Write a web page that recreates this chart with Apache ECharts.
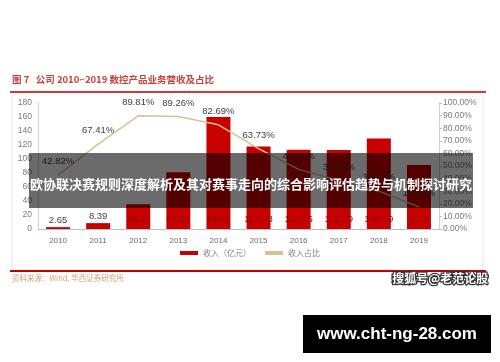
<!DOCTYPE html>
<html><head><meta charset="utf-8">
<script src="https://cdn.jsdelivr.net/npm/echarts@6/dist/echarts.min.js"></script>
<style>html,body{margin:0;padding:0;background:#fff;}#c{width:500px;height:362px;}</style>
</head><body><div id="c"></div>
<script>
const years = ['2010','2011','2012','2013','2014','2015','2016','2017','2018','2019'];
const revenue = [2.65, 8.39, 35.31, 81.24, 160.1, 117.88, 113.16, 112.89, 129.19, 91.4];
const share = [42.82, 67.41, 89.81, 89.26, 82.69, 63.73, 47.31, 38.44, 30.02, 17.59];
const leftTicks = [0, 180, 20];
const rightTicks = [0, 100, 10];
const titleText = '图 7   公司 2010~2019 数控产品业务营收及占比';
const sourceText = '资料来源：Wind, 华西证券研究所';
const overlayText = '欧协联决赛规则深度解析及其对赛事走向的综合影响评估趋势与机制探讨研究';

const numFont = 'Liberation Sans';
const cjk = 'Noto Sans CJK SC';
const chart = echarts.init(document.getElementById('c'));
chart.setOption({
  animation: false,
  backgroundColor: '#fff',
  grid: {left: 38, right: 61, top: 103, bottom: 133},
  legend: {
    bottom: 100, left: 'center', itemWidth: 18, itemHeight: 4, itemGap: 14,
    textStyle: {fontFamily: cjk, fontSize: 8, color: '#7f7f7f'},
    data: [{name: '收入（亿元）', icon: 'rect'}, {name: '收入占比', icon: 'rect'}]
  },
  xAxis: {
    type: 'category', data: years,
    axisLine: {lineStyle: {color: '#bfbfbf'}}, axisTick: {show: false},
    axisLabel: {color: '#6a6a6a', fontSize: 8, fontFamily: numFont, margin: 8}
  },
  yAxis: [{
    type: 'value', min: leftTicks[0], max: leftTicks[1], interval: leftTicks[2],
    splitLine: {show: false},
    axisLine: {show: true, lineStyle: {color: '#d0d0d0'}}, axisTick: {show: false},
    axisLabel: {color: '#7a7a7a', fontSize: 8.5, fontFamily: numFont, margin: 6}
  }, {
    type: 'value', min: rightTicks[0], max: rightTicks[1], interval: rightTicks[2],
    splitLine: {show: false},
    axisLine: {show: true, lineStyle: {color: '#d0d0d0'}},
    axisTick: {show: true, length: 3, lineStyle: {color: '#bfbfbf'}},
    axisLabel: {color: '#7a7a7a', fontSize: 8.5, fontFamily: numFont, margin: 4,
      formatter: v => v.toFixed(2) + '%'}
  }],
  series: [{
    name: '收入（亿元）', type: 'bar', barWidth: 24,
    itemStyle: {color: '#c80000'},
    data: revenue.map((v, i) => ({value: v, label: {color: i < 2 ? '#3f3f3f' : '#950000',
      position: i < 2 ? 'top' : 'insideBottom', distance: i < 2 ? 2 : 5}})),
    label: {show: true, fontSize: 9.5, fontFamily: numFont}
  }, {
    name: '收入占比', type: 'line', yAxisIndex: 1, data: share,
    showSymbol: true, symbol: 'circle', symbolSize: 1,
    lineStyle: {color: '#d9c08f', width: 1.5},
    itemStyle: {color: '#d9c08f'},
    labelLayout: {hideOverlap: false},
    label: {show: true, position: 'top', distance: 8, color: '#404040', fontSize: 9.5, fontFamily: numFont,
      formatter: p => p.value.toFixed(2) + '%'}
  }],
  graphic: [
    {type: 'text', left: 12, top: 75, z: 10, style: {text: titleText, fill: '#c8403a', font: 'bold 9.5px "Noto Sans CJK SC"'}},
    {type: 'rect', shape: {x: 12, y: 92, width: 471, height: 178}, z: -1, style: {fill: 'none', stroke: '#e6e6e6', lineWidth: 1}},
    {type: 'line', shape: {x1: 10, y1: 92, x2: 486, y2: 92}, z: 10, style: {stroke: '#c00000', lineWidth: 1.5}},
    {type: 'line', shape: {x1: 10, y1: 271, x2: 486, y2: 271}, z: 10, style: {stroke: '#c00000', lineWidth: 2}},
    {type: 'text', left: 12, top: 274, z: 10, style: {text: sourceText, fill: '#c8a87a', font: '7.5px "Noto Sans CJK SC"'}},
    {type: 'text', left: 391, top: 271, z: 20, style: {text: '搜狐号@老范论股', fill: '#fff', stroke: '#333', lineWidth: 2.5, font: 'bold 12px "Noto Sans CJK SC"'}},
    {type: 'rect', shape: {x: 29, y: 153, width: 444, height: 55}, z: 30, style: {fill: 'rgba(0,0,0,0.58)'}},
    {type: 'text', x: 251, y: 184, z: 31, style: {text: overlayText, fill: '#fff', font: 'bold 13px "Noto Sans CJK SC"', align: 'center', verticalAlign: 'middle'}},
    {type: 'rect', shape: {x: 303, y: 315, width: 188, height: 38}, z: 30, style: {fill: '#000'}},
    {type: 'text', x: 397, y: 334, z: 31, style: {text: 'www.cht-ng-28.com', fill: '#fff', font: 'bold 17px "Liberation Sans"', align: 'center', verticalAlign: 'middle'}}
  ]
});
</script></body></html>
